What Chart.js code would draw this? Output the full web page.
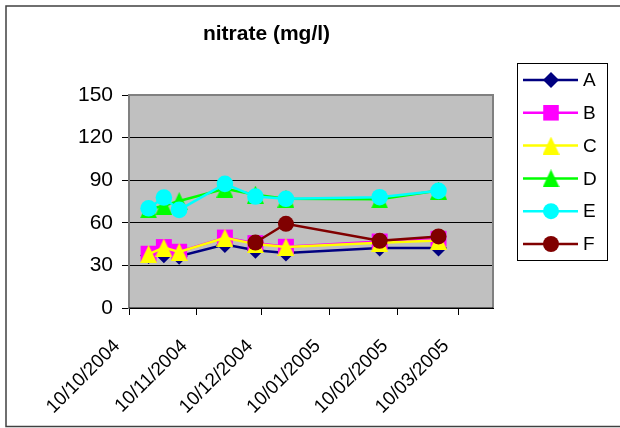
<!DOCTYPE html>
<html>
<head>
<meta charset="utf-8">
<script src="https://cdn.jsdelivr.net/npm/chart.js@4.4.1/dist/chart.umd.min.js"></script>
<style>
  html, body { margin: 0; padding: 0; background: #fff; }
  #wrap { width: 620px; height: 428px; }
</style>
</head>
<body>
<div id="wrap"><canvas id="nitrate-chart" width="620" height="428"></canvas></div>
<script>
// sampling dates (dd/mm/yyyy) and readings per site
const sampleDates = ['19/10/2004', '26/10/2004', '02/11/2004', '23/11/2004', '07/12/2004', '21/12/2004', '02/02/2005', '01/03/2005'];
const seriesNames = ['A', 'B', 'C', 'D', 'E', 'F'];
const siteA = [37, 37.5, 36.5, 44.7, 40.6, 38.7, 42.3, 42.3];
const siteB = [38.2, 42.9, 39.6, 49.6, 45.7, 43.1, 46.8, 48.7];
const siteC = [38, 42.5, 39.5, 49.5, 45, 43, 46, 47.5];
const siteD = [69.5, 72, 75.3, 84, 79.8, 77, 76.5, 82.7];
const siteE = [70.2, 77.8, 69.1, 87.4, 78.5, 76.9, 78, 82.5];
const siteF = [null, null, null, null, 46.1, 59.3, 47.3, 50.4];

const tickDates = ['10/10/2004', '10/11/2004', '10/12/2004', '10/01/2005', '10/02/2005', '10/03/2005'];
const axisRange = ['10/10/2004', '26/03/2005'];
const yTicks = [0, 30, 60, 90, 120, 150];

const colors = ['#000080', '#ff00ff', '#ffff00', '#00ff00', '#00ffff', '#800000'];

function toDay(s) {
    const [d, m, y] = s.split('/').map(Number);
    return Date.UTC(y, m - 1, d) / 86400000;
}

function triangleMarker(color) {
    const c = document.createElement('canvas');
    c.width = 17;
    c.height = 18;
    const g = c.getContext('2d');
    g.fillStyle = color;
    g.beginPath();
    g.moveTo(8.5, 0);
    g.lineTo(17, 18);
    g.lineTo(0, 18);
    g.closePath();
    g.fill();
    return c;
}

const markers = [
    { pointStyle: 'rectRot', radius: 8.5 },
    { pointStyle: 'rect', radius: 11.3 },
    { pointStyle: triangleMarker(colors[2]), radius: 9 },
    { pointStyle: triangleMarker(colors[3]), radius: 9 },
    { pointStyle: 'circle', radius: 8.3 },
    { pointStyle: 'circle', radius: 8 }
];

const allSeries = [siteA, siteB, siteC, siteD, siteE, siteF];

const datasets = allSeries.map((vals, i) => ({
    label: seriesNames[i],
    data: sampleDates.map((d, j) => ({ x: toDay(d), y: vals[j] })),
    borderColor: colors[i],
    backgroundColor: colors[i],
    borderWidth: 2.5,
    pointStyle: markers[i].pointStyle,
    pointRadius: markers[i].radius,
    pointBorderWidth: 0,
    pointBackgroundColor: colors[i],
    tension: 0,
    spanGaps: false,
    order: allSeries.length - i
}));

const chartFrame = {
    id: 'chartFrame',
    beforeDraw(chart) {
        const { ctx, chartArea: a } = chart;
        ctx.save();
        ctx.fillStyle = '#fff';
        ctx.fillRect(0, 0, chart.width, chart.height);
        ctx.strokeStyle = '#404040';
        ctx.lineWidth = 1.5;
        ctx.strokeRect(6, 6, 700, 420.5);
        ctx.fillStyle = '#c0c0c0';
        ctx.fillRect(a.left, a.top, a.right - a.left, a.bottom - a.top);
        ctx.restore();
    },
    beforeDatasetsDraw(chart) {
        const { ctx, chartArea: a } = chart;
        ctx.save();
        ctx.strokeStyle = '#808080';
        ctx.lineWidth = 2;
        ctx.beginPath();
        ctx.moveTo(a.left, a.bottom);
        ctx.lineTo(a.left, a.top);
        ctx.lineTo(a.right, a.top);
        ctx.lineTo(a.right, a.bottom);
        ctx.stroke();
        ctx.strokeStyle = '#000';
        ctx.lineWidth = 1;
        ctx.beginPath();
        ctx.moveTo(a.left, a.bottom);
        ctx.lineTo(a.right, a.bottom);
        ctx.stroke();
        ctx.restore();
    },
    afterDraw(chart) {
        // legend box: line + marker + name
        const ctx = chart.ctx;
        ctx.save();
        ctx.strokeStyle = '#000';
        ctx.lineWidth = 1;
        ctx.strokeRect(517.5, 63.5, 90, 197);
        ctx.font = '19px "Liberation Sans", Arial, sans-serif';
        ctx.textBaseline = 'middle';
        chart.data.datasets.forEach((ds, i) => {
            const y = 80 + i * 32.8;
            ctx.strokeStyle = ds.borderColor;
            ctx.lineWidth = 2.5;
            ctx.beginPath();
            ctx.moveTo(523, y);
            ctx.lineTo(578, y);
            ctx.stroke();
            ctx.fillStyle = ds.backgroundColor;
            Chart.helpers.drawPoint(ctx, {
                pointStyle: ds.pointStyle,
                radius: i === 1 ? 11 : 8,
                rotation: 0,
                borderWidth: 0
            }, 551, y);
            ctx.fillStyle = '#000';
            ctx.fillText(ds.label, 583, y + 1);
        });
        ctx.restore();
    }
};

new Chart(document.getElementById('nitrate-chart').getContext('2d'), {
    type: 'line',
    data: { datasets: datasets },
    plugins: [chartFrame],
    options: {
        responsive: false,
        devicePixelRatio: 1,
        animation: false,
        layout: { padding: { left: 40, right: 127, top: 0, bottom: 0 } },
        plugins: {
            legend: { display: false },
            tooltip: { enabled: false },
            title: {
                display: true,
                text: 'nitrate (mg/l)',
                color: '#000',
                font: { family: '"Liberation Sans", Arial, sans-serif', size: 21, weight: 'bold', lineHeight: 1.2 },
                padding: { top: 22, bottom: 47.8 }
            }
        },
        scales: {
            x: {
                type: 'linear',
                min: toDay(axisRange[0]),
                max: toDay(axisRange[1]),
                afterBuildTicks: scale => {
                    scale.ticks = tickDates.map(d => ({ value: toDay(d) }));
                },
                afterFit: scale => { scale.height = 120; },
                grid: { drawOnChartArea: false, drawTicks: true, tickLength: 7, color: '#000' },
                border: { display: true, color: '#000' },
                ticks: {
                    color: '#000',
                    minRotation: 45,
                    maxRotation: 45,
                    padding: 20,
                    labelOffset: -12,
                    autoSkip: false,
                    font: { family: '"Liberation Sans", Arial, sans-serif', size: 19 },
                    callback: value => {
                        const idx = tickDates.findIndex(d => toDay(d) === value);
                        return idx >= 0 ? tickDates[idx] : '';
                    }
                }
            },
            y: {
                min: 0,
                max: 150,
                afterBuildTicks: scale => {
                    scale.ticks = yTicks.map(v => ({ value: v }));
                },
                afterFit: scale => { scale.width = 89; },
                grid: { color: '#000', lineWidth: 1, tickLength: 7 },
                border: { display: true, color: '#808080', width: 2 },
                ticks: {
                    color: '#000',
                    padding: 9,
                    font: { family: '"Liberation Sans", Arial, sans-serif', size: 21 }
                }
            }
        }
    }
});
</script>
</body>
</html>
